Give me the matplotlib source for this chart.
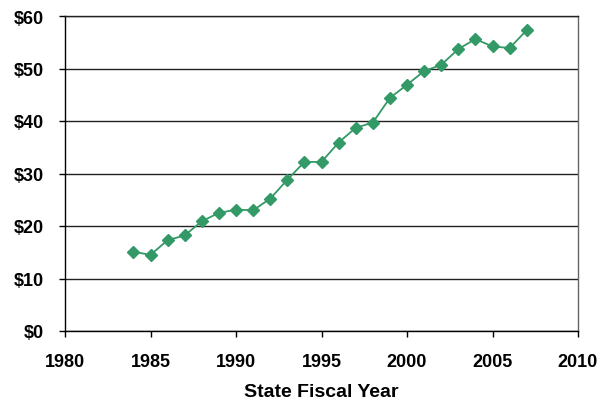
import matplotlib
matplotlib.use("Agg")
import matplotlib.pyplot as plt
from matplotlib.ticker import FuncFormatter

years = list(range(1984, 2008))
spending = [15.1, 14.5, 17.3, 18.2, 20.9, 22.5, 23.1, 23.0, 25.2, 28.8,
            32.2, 32.2, 35.9, 38.7, 39.7, 44.4, 46.9, 49.5, 50.7, 53.7,
            55.6, 54.2, 53.9, 57.3]
x_ticks = [1980, 1985, 1990, 1995, 2000, 2005, 2010]
y_ticks = [0, 10, 20, 30, 40, 50, 60]

plt.rcParams['font.family'] = ['Liberation Sans', 'DejaVu Sans']

fig = plt.figure(figsize=(5.98, 4.02), dpi=100)
ax = fig.add_axes([65/598, 70/402, 513/598, 315/402])

for y in y_ticks:
    ax.axhline(y, color='#222222', lw=1.0, zorder=1)

ax.plot(years, spending, color='#339966', lw=1.3, marker='D',
        markersize=6, markeredgecolor='#339966', zorder=3)

ax.set_xlim(1980, 2010)
ax.set_ylim(0, 60)
ax.set_xticks(x_ticks)
ax.set_yticks(y_ticks)
ax.yaxis.set_major_formatter(FuncFormatter(lambda v, p: f"${v:.0f}"))

for lab in ax.get_xticklabels() + ax.get_yticklabels():
    lab.set_fontweight('bold')
ax.tick_params(axis='both', labelsize=13, length=4.5, width=1, color='black')
ax.tick_params(axis='x', pad=11)
ax.tick_params(axis='y', pad=11)

ax.spines['left'].set_color('black')
ax.spines['bottom'].set_color('black')
ax.spines['right'].set_color('#666666')
ax.spines['top'].set_color('#222222')
for s in ax.spines.values():
    s.set_linewidth(1.0)

ax.set_xlabel('State Fiscal Year', fontsize=14, fontweight='bold')
ax.xaxis.set_label_coords(0.5, -0.166)

fig.savefig('out.png', dpi=100)
